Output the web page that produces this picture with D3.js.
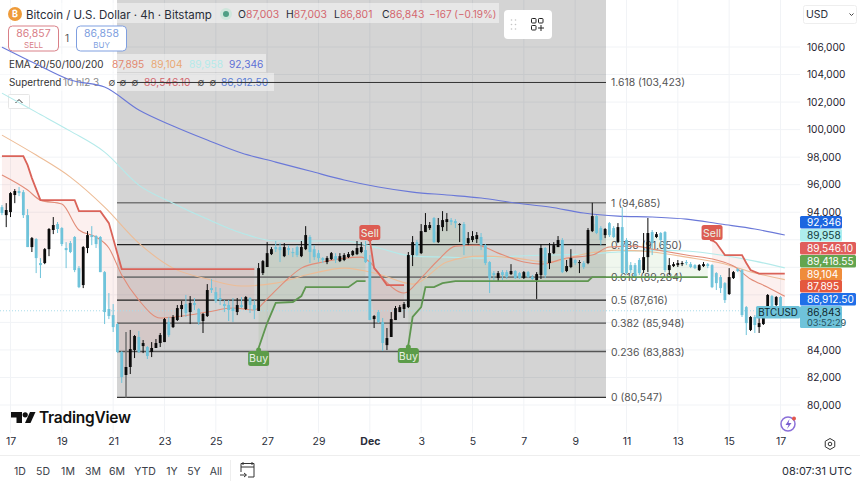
<!DOCTYPE html>
<html>
<head>
<meta charset="utf-8">
<script src="https://cdn.jsdelivr.net/npm/d3@7"></script>
<style>
  html, body { margin: 0; padding: 0; background: #fff; }
  svg { display: block; }
  text { font-family: Inter, "Noto Sans", sans-serif; }
</style>
</head>
<body>
<div id="chart"></div>
<script>
// 4h candles, candle number 0 is 17 Nov 00:00 UTC, the first one on screen is number -2
var firstCandle = -2;
var candleOpen = [
  94370,93790,94010,95250,95540,95460,93790,91470,92050,90310,
  90310,91320,92710,93140,92850,91400,91760,92200,89940,88710,
  91400,92340,92270,92200,89650,86970,86530,85880,83850,82180,
  82760,83990,84940,84280,84210,83850,84140,84500,84570,86030,
  85660,86170,86970,87330,86750,87410,86970,86100,86460,88490,
  88200,87770,87330,87260,87040,86750,87260,86970,87770,87260,
  86830,89580,90020,90960,91470,91470,90810,91400,91110,91470,
  90810,91320,92200,91320,91030,90670,90380,90600,90810,90450,
  90530,90740,90890,90960,91110,91250,90380,86240,86750,86030,
  84350,84940,86170,86750,86970,87110,90890,91830,91030,92560,
  92850,93580,91830,92920,93290,93430,93360,93070,93140,91760,
  91980,92050,92200,91610,90380,89580,89220,89650,89650,89510,
  89730,89580,89220,89650,89290,89070,89440,91400,90310,91030,
  91470,91980,89730,90020,90530,90310,90310,90310,92630,93720,
  92850,92340,93210,92850,91830,92920,91980,90160,90160,90530,
  89800,90740,92560,92200,92490,92560,89800,90090,90160,90230,
  90380,90230,90160,89800,90090,90230,90160,89580,89290,88850,
  88060,89220,89870,89800,87110,85450,86390,85660,85880,86750,
  87910,87260,87840,87003];
var candleHigh = [
  94520,94660,95460,95680,95830,95610,94230,92200,92120,90670,
  91400,92850,93650,93290,92920,91830,91910,92270,90090,91540,
  92630,92990,92340,92270,89730,88130,87330,85950,83920,85300,
  85450,85080,85370,84720,84280,84570,84790,85230,86320,86390,
  86530,87260,87550,87990,87910,87770,87040,86680,88780,89150,
  88560,88490,87620,87620,87770,87770,87840,87910,87840,87620,
  90310,90530,91830,91470,91910,91760,91760,91610,91400,91610,
  91910,92990,92340,91610,91250,90740,90810,91110,91030,91030,
  91030,91110,91250,91910,91830,91910,90890,86530,86900,86320,
  85590,86750,87190,87260,87480,91110,92270,91980,93140,93940,
  93290,93650,93580,94080,93940,93580,93500,93210,93290,92560,
  92630,92560,92490,91690,90450,89730,89730,89800,89800,90230,
  89800,89650,89730,89730,89440,89650,91690,91470,91760,91830,
  92270,92120,90530,91320,90600,90530,90450,92850,94685,93790,
  92990,92850,93290,92990,93210,94370,92120,90380,90310,90670,
  92490,93580,92710,92560,92560,92630,90670,90380,90530,90450,
  90530,90380,90230,90230,90380,90310,90230,89650,89440,88930,
  89940,89730,89940,89870,87190,86460,86530,86680,86680,88060,
  87990,87910,87910,87003];
var candleLow = [
  93790,92920,93650,94660,95170,93580,91470,91110,89580,89220,
  90230,90810,92410,92490,91540,89940,91030,89650,88490,88490,
  91030,91610,91400,89650,85880,86240,85300,83770,81600,80547,
  82250,83410,83770,83770,83340,83480,84140,84210,84570,84940,
  85590,86100,86390,86390,85880,86900,85810,85230,86390,88130,
  87410,87260,86750,86100,86030,86530,87040,86900,86680,86240,
  86830,89440,90020,90890,91110,90380,90740,90890,90740,90740,
  90740,91250,90310,90530,90380,90310,90230,90530,90310,90380,
  90450,90670,90810,90890,91030,90310,86170,85590,85950,83920,
  83990,84940,86170,86750,86320,87040,90090,90810,90960,92560,
  92710,91760,91760,92630,92630,93070,92850,91830,90890,91610,
  91830,91760,91250,90160,88130,89070,89000,89070,89150,89440,
  89150,89150,89150,89220,89070,87700,89150,89220,89870,90960,
  91470,89580,89650,89940,90160,89580,89870,90230,92560,92410,
  91610,92120,92200,92120,91760,89440,89510,89580,89220,89440,
  89580,89650,90890,92120,91610,89650,89440,90020,90020,90090,
  90160,89940,89870,89730,90020,89940,88490,88350,88130,87410,
  87990,89150,89650,86390,85080,85370,85230,85230,85810,86320,
  86830,86970,86900,86801];
var candleClose = [
  93940,94160,95390,95540,95390,93790,91470,92120,90670,90160,
  91320,92780,93070,92780,91690,91250,91110,89800,88560,91470,
  92340,92200,91690,89650,86750,86460,85660,83850,82030,82760,
  84060,85010,83850,84500,83560,84140,84500,85080,86240,85080,
  86390,87040,87260,86680,87410,87260,86030,86610,88350,88350,
  87550,87620,87190,86900,86830,87260,87110,87840,87260,86900,
  89940,90450,91030,91320,91320,91250,91470,91250,91030,90890,
  91470,92340,91110,90740,90670,90530,90670,91030,90530,90810,
  90890,90960,91180,91400,91470,90380,86170,86460,86030,84500,
  84860,86240,87040,87110,87330,90890,91830,90890,92630,93070,
  93070,91830,93070,93430,93500,93290,93210,93140,91610,92120,
  92270,92340,91610,90310,89220,89440,89580,89440,89290,89730,
  89220,89220,89650,89290,89150,89510,91400,89440,91030,91610,
  91980,89650,90090,90670,90310,90380,90020,92710,93720,92490,
  91980,92780,92340,92200,92920,89580,89580,89800,89290,89580,
  90740,92490,91760,92410,91980,89800,90160,90230,90310,90310,
  90310,90020,89940,90160,90230,90090,88560,88850,88490,87620,
  89290,89650,89730,86530,85950,86390,85810,85950,86320,87990,
  86900,87840,86970,86843];

// moving averages, every 8 candles
var emaCandles = [-2,6,14,22,30,38,46,54,62,70,78,86,94,102,110,118,126,134,142,150,158,166,174,181];
var ema200 = [105990,104760,103600,103090,101420,100260,99240,98300,97640,96990,96340,95830,95460,95250,95030,94670,94380,93940,93720,93650,93500,93140,92780,92346];
var ema100 = [102650,101270,99890,98370,95970,94660,93500,92490,91910,91910,91910,91400,90810,90740,90670,90810,90890,90960,91110,91250,91180,90890,90450,89958];
var ema50 = [99600,98150,96550,94370,91760,89940,89150,88640,88850,89510,89940,89510,88780,90380,90810,90670,90380,90960,91250,91110,90740,90310,89580,89104];
var ema20Candles = [-2,4,7,12,16,20,23,26,30,35,40,46,52,57,60,64,68,73,82,84,87,92,96,100,104,109,114,120,124,130,136,140,146,150,158,165,169,173,177,181];
var ema20 = [96700,95610,94880,94590,92710,92200,91400,89440,87620,86320,86460,86750,87040,86900,87700,88930,89940,90380,90740,90380,89220,88130,89220,90530,91540,91610,91030,90380,90230,90670,90890,91470,91540,91320,90890,90530,90090,89150,88560,87895];

// supertrend legs
var stDown1Candles = [-2,3,4,5,7,15,16,21,23,26,57];
var stDown1 = [98080,98080,97420,96480,94880,94880,94080,94080,93210,89870,89870];
var stUp1Candles = [58,60,62,66,68,69,79,81,83];
var stUp1 = [84140,85950,87410,87480,87910,88560,88560,89000,89000];
var stDown2Candles = [84,85,86,88,92];
var stDown2 = [91980,89940,89580,88710,88710];
var stUp2Candles = [93,94,96,97,99,101,104,135,136,163];
var stUp2 = [84350,86390,87110,88560,88560,88850,89000,89000,89290,89290];
var stDown3Candles = [164,165,167,171,172,173,175,181];
var stDown3 = [91980,91760,90890,90890,90310,89800,89546,89546];

var signalCandles = [58,84,93,164];
var signalPrices = [84140,91980,84350,91980];
var signalNames = ["Buy","Sell","Buy","Sell"];

// fibonacci retracement
var fibRatios = ["1.618","1","0.786","0.618","0.5","0.382","0.236","0"];
var fibPrices = [103423,94685,91650,89284,87616,85948,83883,80547];

var priceTicks = [106000,104000,102000,100000,98000,96000,94000,84000,82000,80000];
var gridPrices = [106000,104000,102000,100000,98000,96000,94000,92000,90000,88000,86000,84000,82000,80000];
var rangeNames = ["1D","5D","1M","3M","6M","YTD","1Y","5Y","All"];

var tagTexts = ["92,346","89,958","89,546.10","89,418.55","89,104","87,895","86,912.50"];

var svgWidth = 860;
var svgHeight = 485;

var upColor = "#0b0b0b";
var downColor = "#6fc3da";
var redText = "#d4686f";
var blueText = "#5b7fd6";

var svg = d3.select("#chart").append("svg")
  .attr("width", svgWidth)
  .attr("height", svgHeight);

var day0 = new Date(Date.UTC(2025, 10, 17));
var xScale = d3.scaleUtc()
  .domain([day0, new Date(Date.UTC(2025, 11, 17))])
  .range([10.5, 780.5]);
var yScale = d3.scaleLinear()
  .domain([80000, 106000])
  .range([405, 47]);

function candleX(n) {
  return xScale(d3.utcHour.offset(day0, n * 4));
}

var candles = candleOpen.map(function(open, k) {
  return { n: firstCandle + k, open: open, high: candleHigh[k], low: candleLow[k], close: candleClose[k] };
});

function zipLine(numbers, prices) {
  return numbers.map(function(n, k) { return { n: n, price: prices[k] }; });
}

var lineGen = d3.line().x(d => candleX(d.n)).y(d => yScale(d.price));
var smoothGen = d3.line().x(d => candleX(d.n)).y(d => yScale(d.price)).curve(d3.curveMonotoneX);

// grid
var dayTicks = d3.range(0, 16).map(function(k) { return d3.utcDay.offset(day0, k * 2); });
var gridGroup = svg.append("g").attr("stroke", "#f1f3f6").attr("stroke-width", 1);
dayTicks.forEach(function(t) {
  gridGroup.append("line").attr("x1", xScale(t)).attr("x2", xScale(t)).attr("y1", 0).attr("y2", 433);
});
gridPrices.forEach(function(p) {
  gridGroup.append("line").attr("x1", 0).attr("x2", 800).attr("y1", yScale(p)).attr("y2", yScale(p));
});

// fib background, goes from the left anchor to the right anchor and down to level 0
svg.append("rect")
  .attr("x", 117).attr("y", 0)
  .attr("width", 489).attr("height", yScale(80547))
  .attr("fill", "#000").attr("fill-opacity", 0.17);

// legend, sits under the marks
var legend = svg.append("g");
legend.append("rect").attr("x", 0).attr("y", 3).attr("width", 499).attr("height", 20).attr("fill", "#fff").attr("fill-opacity", 0.45);
legend.append("rect").attr("x", 0).attr("y", 54).attr("width", 266).attr("height", 18).attr("fill", "#fff").attr("fill-opacity", 0.45);
legend.append("rect").attr("x", 0).attr("y", 73).attr("width", 274).attr("height", 18).attr("fill", "#fff").attr("fill-opacity", 0.45);

legend.append("circle").attr("cx", 15).attr("cy", 14).attr("r", 7).attr("fill", "#ee9b3a");
legend.append("text").attr("x", 15).attr("y", 17).attr("text-anchor", "middle")
  .attr("font-size", 9).attr("font-weight", 700).attr("fill", "#fff").text("₿");
legend.append("text").attr("x", 26).attr("y", 18.5).attr("font-size", 11.5).attr("fill", "#2a2e39")
  .text("Bitcoin / U.S. Dollar · 4h · Bitstamp");
legend.append("circle").attr("cx", 226).attr("cy", 14).attr("r", 6).attr("fill", "#cfe6dc");
legend.append("circle").attr("cx", 226).attr("cy", 14).attr("r", 3).attr("fill", "#4f9f85");

var ohlcPieces = [["O", "87,003"], ["H", "87,003"], ["L", "86,801"], ["C", "86,843"]];
var ohlcStarts = [238, 286, 334, 382];
ohlcPieces.forEach(function(piece, k) {
  var t = legend.append("text").attr("x", ohlcStarts[k]).attr("y", 18).attr("font-size", 10.4);
  t.append("tspan").attr("fill", "#2a2e39").text(piece[0]);
  t.append("tspan").attr("fill", redText).text(piece[1]);
});
legend.append("text").attr("x", 429).attr("y", 18).attr("font-size", 10).attr("fill", redText).text("−167 (−0.19%)");

// sell and buy boxes
function orderBox(x, stroke, price, name) {
  legend.append("rect").attr("x", x).attr("y", 26).attr("width", 50).attr("height", 25).attr("rx", 4)
    .attr("fill", "#fff").attr("stroke", stroke);
  legend.append("text").attr("x", x + 25).attr("y", 37).attr("text-anchor", "middle")
    .attr("font-size", 10.5).attr("fill", stroke).text(price);
  legend.append("text").attr("x", x + 25).attr("y", 47.5).attr("text-anchor", "middle")
    .attr("font-size", 8).attr("fill", stroke).text(name);
}
orderBox(8.5, "#d98088", "86,857", "SELL");
orderBox(76.5, "#7f9fe0", "86,858", "BUY");
legend.append("text").attr("x", 67).attr("y", 42).attr("text-anchor", "middle")
  .attr("font-size", 10).attr("fill", "#555").text("1");

// indicator rows
legend.append("text").attr("x", 9).attr("y", 68).attr("font-size", 9.9).attr("fill", "#333").text("EMA 20/50/100/200");
var emaValueText = ["87,895", "89,104", "89,958", "92,346"];
var emaValueColor = ["#e2876f", "#e9a873", "#b4eaea", "#5e6fd6"];
var emaValueX = [112, 151, 189, 229];
emaValueText.forEach(function(s, k) {
  legend.append("text").attr("x", emaValueX[k]).attr("y", 68).attr("font-size", 10.2).attr("fill", emaValueColor[k]).text(s);
});
legend.append("text").attr("x", 9).attr("y", 86).attr("font-size", 9.9).attr("fill", "#333").text("Supertrend");
legend.append("text").attr("x", 63).attr("y", 86).attr("font-size", 9.9).attr("fill", "#888").text("10 hl2 3");
[112, 123, 135, 201, 213].forEach(function(x) {
  legend.append("text").attr("x", x).attr("y", 86).attr("text-anchor", "middle").attr("font-size", 10).attr("fill", "#555").text("∅");
});
legend.append("text").attr("x", 144).attr("y", 86).attr("font-size", 10.2).attr("fill", redText).text("89,546.10");
legend.append("text").attr("x", 221).attr("y", 86).attr("font-size", 10.2).attr("fill", blueText).text("86,912.50");

// collapse button
legend.append("rect").attr("x", 8.5).attr("y", 94.5).attr("width", 21).attr("height", 14).attr("rx", 1)
  .attr("fill", "#fff").attr("stroke", "#e6e6e6");
legend.append("path").attr("d", "M15.5 103 L19 99.5 L22.5 103").attr("fill", "none").attr("stroke", "#333");

// supertrend fill, between the leg and the middle of the candle bodies
function trendFill(numbers, prices, color) {
  var mids = candles
    .filter(function(c) { return c.n >= numbers[0] && c.n <= numbers[numbers.length - 1]; })
    .map(function(c) { return { n: c.n, price: (c.open + c.close) / 2 }; })
    .reverse();
  svg.append("path")
    .attr("d", lineGen(zipLine(numbers, prices).concat(mids)) + "Z")
    .attr("fill", color);
}
var fillRed = "rgba(226,90,80,0.09)";
var fillGreen = "rgba(90,170,70,0.09)";
trendFill(stDown1Candles, stDown1, fillRed);
trendFill(stUp1Candles, stUp1, fillGreen);
trendFill(stDown2Candles, stDown2, fillRed);
trendFill(stUp2Candles, stUp2, fillGreen);
trendFill(stDown3Candles, stDown3, fillRed);

// fib levels
var fibStroke = ["#333", "#777", "#222", "#777", "#222", "#555", "#555", "#333"];
var fibWidth = [1, 1.6, 1.2, 1.6, 1.2, 1.4, 1.4, 1.2];
fibPrices.forEach(function(p, k) {
  svg.append("line")
    .attr("x1", 117).attr("x2", 606)
    .attr("y1", yScale(p)).attr("y2", yScale(p))
    .attr("stroke", fibStroke[k]).attr("stroke-width", fibWidth[k]);
  svg.append("text")
    .attr("x", 611).attr("y", yScale(p) + 4)
    .attr("font-size", 10.4).attr("fill", "#555")
    .text(fibRatios[k] + " (" + d3.format(",")(p) + ")");
});

// last price dotted line
svg.append("line")
  .attr("x1", 0).attr("x2", 800)
  .attr("y1", yScale(86843)).attr("y2", yScale(86843))
  .attr("stroke", "#a9dcea").attr("stroke-width", 1).attr("stroke-dasharray", "1 2");

// moving averages
function emaLine(numbers, prices, color) {
  svg.append("path")
    .attr("d", smoothGen(zipLine(numbers, prices)))
    .attr("fill", "none").attr("stroke", color).attr("stroke-width", 1.1);
}
emaLine(emaCandles, ema200, "#6a78d8");
emaLine(emaCandles, ema100, "#b4eaea");
emaLine(emaCandles, ema50, "#edbc96");
emaLine(ema20Candles, ema20, "#e28c78");

// candles
var candleGroup = svg.append("g");
candleGroup.selectAll("line")
  .data(candles)
  .enter()
  .append("line")
  .attr("x1", d => candleX(d.n))
  .attr("x2", d => candleX(d.n))
  .attr("y1", d => yScale(d.high))
  .attr("y2", d => yScale(d.low))
  .attr("stroke", d => d.n === 27 ? "#777" : (d.close >= d.open ? upColor : downColor))
  .attr("stroke-width", d => d.n === 27 ? 1.6 : 1);
candleGroup.selectAll("rect")
  .data(candles)
  .enter()
  .append("rect")
  .attr("x", d => candleX(d.n) - 1.4)
  .attr("width", 2.8)
  .attr("y", d => yScale(Math.max(d.open, d.close)))
  .attr("height", d => Math.max(1, Math.abs(yScale(d.open) - yScale(d.close))))
  .attr("fill", d => d.close >= d.open ? upColor : downColor);

// supertrend legs
function trendLine(numbers, prices, color) {
  svg.append("path")
    .attr("d", lineGen(zipLine(numbers, prices)))
    .attr("fill", "none").attr("stroke", color).attr("stroke-width", 1.8);
}
trendLine(stDown1Candles, stDown1, "#da6359");
trendLine(stUp1Candles, stUp1, "#5f9650");
trendLine(stDown2Candles, stDown2, "#da6359");
trendLine(stUp2Candles, stUp2, "#5f9650");
trendLine(stDown3Candles, stDown3, "#da6359");

// buy and sell flags
signalCandles.forEach(function(n, k) {
  var isBuy = signalNames[k] === "Buy";
  var cx = candleX(n);
  var cy = yScale(signalPrices[k]);
  var color = isBuy ? "#5c9c49" : "#dd5c52";
  var top = isBuy ? cy + 3 : cy - 15;
  svg.append("circle").attr("cx", cx).attr("cy", cy + (isBuy ? 2 : -1)).attr("r", 2.5).attr("fill", color);
  svg.append("rect").attr("x", cx - 10.5).attr("y", top).attr("width", 21).attr("height", 15).attr("rx", 2.5).attr("fill", color);
  svg.append("text").attr("x", cx).attr("y", top + 11.5).attr("text-anchor", "middle")
    .attr("font-size", 10.5).attr("fill", "#e9f2e6").text(signalNames[k]);
});

// logo
var logo = svg.append("g");
logo.append("path").attr("d", "M11 412 H22 V423 H16.5 V417.5 H11 Z").attr("fill", "#111");
logo.append("circle").attr("cx", 25.2).attr("cy", 414.8).attr("r", 2.6).attr("fill", "#111");
logo.append("path").attr("d", "M30 412 H35.5 L30.5 423 H25 Z").attr("fill", "#111");
logo.append("text").attr("x", 39).attr("y", 423).attr("font-size", 15.5).attr("font-weight", 600)
  .attr("fill", "#111").attr("textLength", 92).text("TradingView");

// price axis
svg.append("rect").attr("x", 800).attr("y", 0).attr("width", 60).attr("height", 433).attr("fill", "#fff");
var priceAxis = d3.axisRight(yScale)
  .tickValues(priceTicks)
  .tickFormat(d3.format(","))
  .tickSize(0)
  .tickPadding(0);
var yAxisGroup = svg.append("g").attr("transform", "translate(807,0)").call(priceAxis);
yAxisGroup.select(".domain").remove();
yAxisGroup.selectAll("text").attr("font-size", 10.1).attr("font-family", "Inter, sans-serif").attr("fill", "#1f2430");

// time axis
var timeAxis = d3.axisBottom(xScale)
  .tickValues(dayTicks)
  .tickFormat(function(t) { return t.getUTCDate() === 1 ? "Dec" : d3.utcFormat("%-d")(t); })
  .tickSize(0)
  .tickPadding(0);
var xAxisGroup = svg.append("g").attr("transform", "translate(0,438)").call(timeAxis);
xAxisGroup.select(".domain").remove();
xAxisGroup.selectAll("text")
  .attr("font-size", 10.5).attr("font-family", "Inter, sans-serif").attr("fill", "#2a2e39")
  .attr("font-weight", d => d.getUTCDate() === 1 ? 700 : 400);

// price tags on the right, stacked so they do not collide
var tagFill = ["#1c66e0", "#aeeeee", "#e05d5b", "#63a54f", "#ef8c3b", "#e4583e", "#1f6fe8"];
var tagInk = ["#fff", "#12393a", "#fff", "#fff", "#fff", "#fff", "#fff"];
var tagTop = [216, 229, 242, 255, 268, 280, 293];
tagTexts.forEach(function(s, k) {
  var wide = s.length > 6;
  svg.append("rect").attr("x", 800).attr("y", tagTop[k]).attr("width", wide ? 56 : 42).attr("height", 12.5).attr("rx", 1.5).attr("fill", tagFill[k]);
  svg.append("text").attr("x", 807).attr("y", tagTop[k] + 10).attr("font-size", 10.1).attr("fill", tagInk[k]).text(s);
});
svg.append("rect").attr("x", 800).attr("y", 306).attr("width", 42).attr("height", 22).attr("rx", 1.5).attr("fill", "#6fc3da");
svg.append("text").attr("x", 807).attr("y", 315.5).attr("font-size", 10.1).attr("fill", "#10282e").text("86,843");
svg.append("text").attr("x", 807).attr("y", 326).attr("font-size", 9.2).attr("fill", "#27525e").text("03:52:29");
svg.append("rect").attr("x", 756).attr("y", 306).attr("width", 44).attr("height", 12.5).attr("rx", 1.5).attr("fill", "#6fc3da");
svg.append("text").attr("x", 778).attr("y", 316).attr("text-anchor", "middle").attr("font-size", 9.8).attr("fill", "#10282e").text("BTCUSD");

// currency selector
svg.append("rect").attr("x", 803.5).attr("y", 5.5).attr("width", 53).attr("height", 18).attr("rx", 2)
  .attr("fill", "#fff").attr("stroke", "#eeeeee");
svg.append("text").attr("x", 806).attr("y", 18).attr("font-size", 10.5).attr("fill", "#2a2e39").text("USD");
svg.append("path").attr("d", "M849.5 13.5 L851.5 15.5 L853.5 13.5").attr("fill", "none").attr("stroke", "#444");

// floating toolbar
svg.append("rect").attr("x", 504).attr("y", 10).attr("width", 48).attr("height", 29).attr("rx", 4)
  .attr("fill", "#fff");
[0, 1, 2].forEach(function(row) {
  [0, 1].forEach(function(col) {
    svg.append("circle").attr("cx", 511.5 + col * 4).attr("cy", 20 + row * 4.5).attr("r", 0.8).attr("fill", "#c4c4c4");
  });
});
var addIcon = svg.append("g").attr("fill", "none").attr("stroke", "#222").attr("stroke-width", 1);
addIcon.append("rect").attr("x", 531.5).attr("y", 18.5).attr("width", 4.5).attr("height", 4.5).attr("rx", 0.8);
addIcon.append("rect").attr("x", 538.5).attr("y", 18.5).attr("width", 4.5).attr("height", 4.5).attr("rx", 0.8);
addIcon.append("rect").attr("x", 531.5).attr("y", 25.5).attr("width", 4.5).attr("height", 4.5).attr("rx", 0.8);
addIcon.append("path").attr("d", "M541 25 V31 M538 28 H544");

// little icons by the axes
var boltIcon = svg.append("g");
boltIcon.append("circle").attr("cx", 788).attr("cy", 424).attr("r", 7).attr("fill", "none").attr("stroke", "#8a6fd8").attr("stroke-width", 1.5);
boltIcon.append("path").attr("d", "M789.5 419 L785.5 425 H788.5 L787 429 L791.5 423 H788.5 Z").attr("fill", "#7a5fd0");
boltIcon.append("circle").attr("cx", 794).attr("cy", 418.5).attr("r", 2).attr("fill", "#e2574c");

var gearHex = d3.range(6).map(function(k) {
  var a = Math.PI / 3 * k + Math.PI / 2;
  return [830 + 5.5 * Math.cos(a), 444 + 5.5 * Math.sin(a)];
});
svg.append("path").attr("d", d3.line().curve(d3.curveLinearClosed)(gearHex)).attr("fill", "none").attr("stroke", "#333");
svg.append("circle").attr("cx", 830).attr("cy", 444).attr("r", 1.8).attr("fill", "none").attr("stroke", "#333");

// bottom bar
svg.append("line").attr("x1", 0).attr("x2", 860).attr("y1", 455.5).attr("y2", 455.5).attr("stroke", "#eeeeee");
var rangeX = [20, 43, 68, 93, 117, 145, 172, 194, 216];
rangeNames.forEach(function(s, k) {
  svg.append("text").attr("x", rangeX[k]).attr("y", 475).attr("text-anchor", "middle")
    .attr("font-size", 10.5).attr("fill", "#3a3e48").text(s);
});
svg.append("line").attr("x1", 230.5).attr("x2", 230.5).attr("y1", 460).attr("y2", 481).attr("stroke", "#eeeeee");
svg.append("path")
  .attr("d", "M243 462 V465 M252 462 V465 M241 463.5 H254 V477 H248 M241 463.5 V472 M241 467 H254 M240 475 H246 M244 473 L246.5 475 L244 477")
  .attr("fill", "none").attr("stroke", "#333");
svg.append("text").attr("x", 852).attr("y", 475).attr("text-anchor", "end")
  .attr("font-size", 11).attr("fill", "#2a2e39").text("08:07:31 UTC");
</script>
</body>
</html>
